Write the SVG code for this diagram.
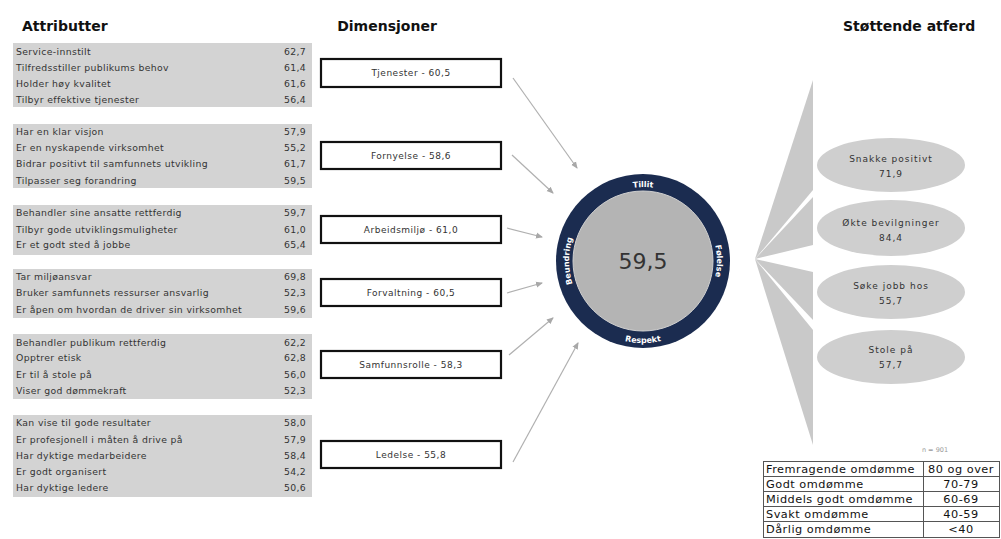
<svg xmlns="http://www.w3.org/2000/svg" width="1001" height="539" viewBox="0 0 1001 539">
<style>
.title{font-family:"DejaVu Sans",Verdana,sans-serif;font-weight:bold;font-size:14px;fill:#111}
.attr{font-family:"DejaVu Sans",Verdana,sans-serif;font-size:9.3px;fill:#333;letter-spacing:0.35px}
.val{font-family:"DejaVu Sans",Verdana,sans-serif;font-size:9.3px;fill:#333;text-anchor:end;letter-spacing:0.3px}
.abox{fill:#d3d3d3}
.dbox{fill:#fff;stroke:#111;stroke-width:2.2}
.dtxt{font-family:"DejaVu Sans",Verdana,sans-serif;font-size:9px;fill:#333;text-anchor:middle;letter-spacing:0.5px}
.conn{stroke:#b0b0b0;stroke-width:1.2;fill:none;marker-end:url(#ah)}
.wedge{fill:#c9c9c9}
.ell{fill:#cfcfcf}
.etxt{font-family:"DejaVu Sans",Verdana,sans-serif;font-size:9px;fill:#333;text-anchor:middle;letter-spacing:1px}
.ring{font-family:"DejaVu Sans",Verdana,sans-serif;font-size:8px;font-weight:bold;fill:#fff}
.leg{font-family:"DejaVu Sans",Verdana,sans-serif;font-size:11.3px;fill:#111;letter-spacing:0.5px}
.legc{stroke:#555;stroke-width:1;fill:none}
</style>
<defs>
<marker id="ah" markerWidth="7" markerHeight="7" refX="6" refY="3.5" orient="auto" markerUnits="userSpaceOnUse">
<path d="M0,0.5 L7,3.5 L0,6.5 z" fill="#a8a8a8"/>
</marker>
<path id="pTop" d="M569,261 A74,74 0 0 1 717,261"/>
<path id="pRight" d="M643,187 A74,74 0 0 1 643,335"/>
<path id="pLeft" d="M643,335 A74,74 0 0 1 643,187"/>
<path id="pBot" d="M561,261 A82,82 0 0 0 725,261"/>
</defs>
<rect width="1001" height="539" fill="#fff"/>

<text class="title" x="22" y="31">Attributter</text>
<text class="title" x="387" y="31" text-anchor="middle">Dimensjoner</text>
<text class="title" x="843" y="31">Støttende atferd</text>

<g id="attr-tjenester">
<rect class="abox" x="13" y="43" width="299" height="64"/>
<text class="attr" x="16" y="55">Service-innstilt</text><text class="val" x="306" y="55">62,7</text>
<text class="attr" x="16" y="71">Tilfredsstiller publikums behov</text><text class="val" x="306" y="71">61,4</text>
<text class="attr" x="16" y="87">Holder høy kvalitet</text><text class="val" x="306" y="87">61,6</text>
<text class="attr" x="16" y="103">Tilbyr effektive tjenester</text><text class="val" x="306" y="103">56,4</text>
</g>
<g id="attr-fornyelse">
<rect class="abox" x="13" y="124" width="299" height="64"/>
<text class="attr" x="16" y="135">Har en klar visjon</text><text class="val" x="306" y="135">57,9</text>
<text class="attr" x="16" y="151">Er en nyskapende virksomhet</text><text class="val" x="306" y="151">55,2</text>
<text class="attr" x="16" y="167">Bidrar positivt til samfunnets utvikling</text><text class="val" x="306" y="167">61,7</text>
<text class="attr" x="16" y="184">Tilpasser seg forandring</text><text class="val" x="306" y="184">59,5</text>
</g>
<g id="attr-arbeidsmiljo">
<rect class="abox" x="13" y="205" width="299" height="50"/>
<text class="attr" x="16" y="216">Behandler sine ansatte rettferdig</text><text class="val" x="306" y="216">59,7</text>
<text class="attr" x="16" y="233">Tilbyr gode utviklingsmuligheter</text><text class="val" x="306" y="233">61,0</text>
<text class="attr" x="16" y="248">Er et godt sted å jobbe</text><text class="val" x="306" y="248">65,4</text>
</g>
<g id="attr-forvaltning">
<rect class="abox" x="13" y="269" width="299" height="49"/>
<text class="attr" x="16" y="280">Tar miljøansvar</text><text class="val" x="306" y="280">69,8</text>
<text class="attr" x="16" y="296">Bruker samfunnets ressurser ansvarlig</text><text class="val" x="306" y="296">52,3</text>
<text class="attr" x="16" y="313">Er åpen om hvordan de driver sin virksomhet</text><text class="val" x="306" y="313">59,6</text>
</g>
<g id="attr-samfunnsrolle">
<rect class="abox" x="13" y="334" width="299" height="65"/>
<text class="attr" x="16" y="346">Behandler publikum rettferdig</text><text class="val" x="306" y="346">62,2</text>
<text class="attr" x="16" y="361">Opptrer etisk</text><text class="val" x="306" y="361">62,8</text>
<text class="attr" x="16" y="378">Er til å stole på</text><text class="val" x="306" y="378">56,0</text>
<text class="attr" x="16" y="394">Viser god dømmekraft</text><text class="val" x="306" y="394">52,3</text>
</g>
<g id="attr-ledelse">
<rect class="abox" x="13" y="415" width="299" height="82"/>
<text class="attr" x="16" y="426">Kan vise til gode resultater</text><text class="val" x="306" y="426">58,0</text>
<text class="attr" x="16" y="443">Er profesjonell i måten å drive på</text><text class="val" x="306" y="443">57,9</text>
<text class="attr" x="16" y="459">Har dyktige medarbeidere</text><text class="val" x="306" y="459">58,4</text>
<text class="attr" x="16" y="475">Er godt organisert</text><text class="val" x="306" y="475">54,2</text>
<text class="attr" x="16" y="491">Har dyktige ledere</text><text class="val" x="306" y="491">50,6</text>
</g>

<g id="dim-tjenester"><rect class="dbox" x="321" y="59" width="180" height="28"/><text class="dtxt" x="411" y="76">Tjenester - 60,5</text></g>
<g id="dim-fornyelse"><rect class="dbox" x="321" y="142" width="180" height="27"/><text class="dtxt" x="411" y="159">Fornyelse - 58,6</text></g>
<g id="dim-arbeidsmiljo"><rect class="dbox" x="321" y="216" width="180" height="27"/><text class="dtxt" x="411" y="233">Arbeidsmiljø - 61,0</text></g>
<g id="dim-forvaltning"><rect class="dbox" x="321" y="279" width="180" height="27"/><text class="dtxt" x="411" y="296">Forvaltning - 60,5</text></g>
<g id="dim-samfunnsrolle"><rect class="dbox" x="321" y="351" width="180" height="27"/><text class="dtxt" x="411" y="368">Samfunnsrolle - 58,3</text></g>
<g id="dim-ledelse"><rect class="dbox" x="321" y="441" width="180" height="27"/><text class="dtxt" x="411" y="458">Ledelse - 55,8</text></g>

<g id="connectors">
<line class="conn" x1="513" y1="78" x2="577" y2="168"/>
<line class="conn" x1="512" y1="155" x2="553" y2="193"/>
<line class="conn" x1="507" y1="228" x2="542" y2="237"/>
<line class="conn" x1="507" y1="293" x2="542" y2="283"/>
<line class="conn" x1="509" y1="355" x2="553" y2="318"/>
<line class="conn" x1="513" y1="462" x2="578" y2="343"/>
</g>

<g id="omdomme">
<circle cx="643" cy="261" r="87" fill="#1b2c50"/>
<circle cx="643" cy="261" r="70" fill="#b4b4b4" stroke="#cfcfcf" stroke-width="1"/>
<text x="643" y="269" text-anchor="middle" font-family="'DejaVu Sans',Verdana,sans-serif" font-size="22" fill="#333">59,5</text>
<text class="ring"><textPath href="#pTop" startOffset="50%" text-anchor="middle">Tillit</textPath></text>
<text class="ring"><textPath href="#pRight" startOffset="50%" text-anchor="middle">Følelse</textPath></text>
<text class="ring"><textPath href="#pLeft" startOffset="50%" text-anchor="middle">Beundring</textPath></text>
<text class="ring"><textPath href="#pBot" startOffset="50%" text-anchor="middle">Respekt</textPath></text>
</g>

<g id="wedges">
<polygon class="wedge" points="755,259 813,80 813,190"/>
<polygon class="wedge" points="755,259 813,197 813,245"/>
<polygon class="wedge" points="755,259 813,272 813,320"/>
<polygon class="wedge" points="755,259 813,330 813,445"/>
</g>

<g id="snakke-positivt"><ellipse class="ell" cx="891" cy="165" rx="74" ry="27"/><text class="etxt" x="891" y="162">Snakke positivt</text><text class="etxt" x="891" y="177">71,9</text></g>
<g id="okte-bevilgninger"><ellipse class="ell" cx="891" cy="228" rx="74" ry="28"/><text class="etxt" x="891" y="226">Økte bevilgninger</text><text class="etxt" x="891" y="241">84,4</text></g>
<g id="soke-jobb"><ellipse class="ell" cx="891" cy="292" rx="74" ry="27"/><text class="etxt" x="891" y="289">Søke jobb hos</text><text class="etxt" x="891" y="304">55,7</text></g>
<g id="stole-pa"><ellipse class="ell" cx="891" cy="357" rx="74" ry="27"/><text class="etxt" x="891" y="353">Stole på</text><text class="etxt" x="891" y="368">57,7</text></g>

<text x="935" y="452" text-anchor="middle" font-family="'DejaVu Sans',sans-serif" font-size="6.5" fill="#999">n = 901</text>

<g id="legend">
<rect class="legc" x="763.5" y="461.5" width="236" height="76"/>
<line class="legc" x1="923.5" y1="461.5" x2="923.5" y2="537.5"/>
<line class="legc" x1="763.5" y1="476.5" x2="999.5" y2="476.5"/>
<line class="legc" x1="763.5" y1="491.5" x2="999.5" y2="491.5"/>
<line class="legc" x1="763.5" y1="506.5" x2="999.5" y2="506.5"/>
<line class="legc" x1="763.5" y1="521.5" x2="999.5" y2="521.5"/>
<text class="leg" x="766" y="473">Fremragende omdømme</text><text class="leg" x="961" y="473" text-anchor="middle">80 og over</text>
<text class="leg" x="766" y="488">Godt omdømme</text><text class="leg" x="961" y="488" text-anchor="middle">70-79</text>
<text class="leg" x="766" y="503">Middels godt omdømme</text><text class="leg" x="961" y="503" text-anchor="middle">60-69</text>
<text class="leg" x="766" y="518">Svakt omdømme</text><text class="leg" x="961" y="518" text-anchor="middle">40-59</text>
<text class="leg" x="766" y="533">Dårlig omdømme</text><text class="leg" x="961" y="533" text-anchor="middle">&lt;40</text>
</g>
</svg>
